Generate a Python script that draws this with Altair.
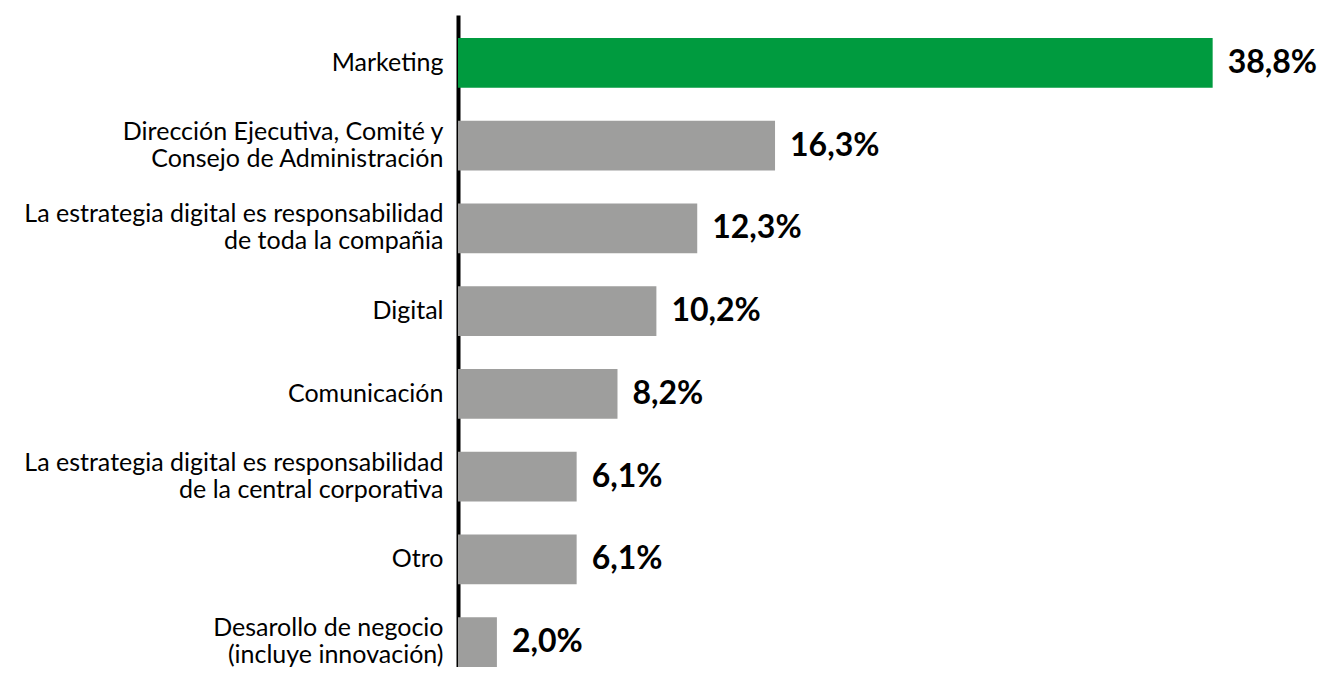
import altair as alt
import pandas as pd

categories = [
    "Marketing",
    "Dirección Ejecutiva, Comité y|Consejo de Administración",
    "La estrategia digital es responsabilidad|de toda la compañia",
    "Digital",
    "Comunicación",
    "La estrategia digital es responsabilidad|de la central corporativa",
    "Otro",
    "Desarollo de negocio|(incluye innovación)",
]
values = [38.8, 16.3, 12.3, 10.2, 8.2, 6.1, 6.1, 2.0]
value_labels = ["38,8%", "16,3%", "12,3%", "10,2%", "8,2%", "6,1%", "6,1%", "2,0%"]
highlight = [True, False, False, False, False, False, False, False]

df = pd.DataFrame({
    "categoria": categories,
    "valor": values,
    "etiqueta": value_labels,
    "destacado": highlight,
})

W = 861
H = 652
PX_PER_UNIT = 19.45

y_enc = alt.Y(
    "categoria:N",
    sort=categories,
    scale=alt.Scale(paddingInner=0.4, paddingOuter=0.139, align=1),
    axis=alt.Axis(
        title=None,
        ticks=False,
        domain=True,
        domainColor="black",
        domainWidth=4,
        labelFont="Lato",
        labelFontSize=25,
        labelColor="black",
        labelPadding=15,
        labelLimit=0,
        labelLineHeight=27,
        labelBaseline="middle",
        labelOffset={"condition": {"test": "indexof(datum.value, '|') >= 0", "value": -14}, "value": 0},
        labelExpr="split(datum.label, '|')",
    ),
)
x_enc = alt.X(
    "valor:Q",
    scale=alt.Scale(domain=[0, W / PX_PER_UNIT], nice=False, zero=True),
    axis=None,
)

bars = alt.Chart(df).mark_bar().encode(
    y=y_enc,
    x=x_enc,
    color=alt.Color(
        "destacado:N",
        scale=alt.Scale(domain=[True, False], range=["#009B3F", "#9E9E9D"]),
        legend=None,
    ),
)

text = alt.Chart(df).mark_text(
    align="left", baseline="middle", dx=15, font="Lato", fontSize=32,
    fontWeight="bold", color="black",
).encode(
    y=alt.Y("categoria:N", sort=categories),
    x=alt.X("valor:Q"),
    text="etiqueta:N",
)

chart = (
    alt.layer(bars, text)
    .properties(
        width=W,
        height=H,
        autosize=alt.AutoSizeParams(type="none"),
        padding={"left": 450, "top": 7, "right": 0, "bottom": 0},
    )
    .configure_view(stroke=None)
)

chart.save("out.html", embed_options={"renderer": "svg", "actions": False})
